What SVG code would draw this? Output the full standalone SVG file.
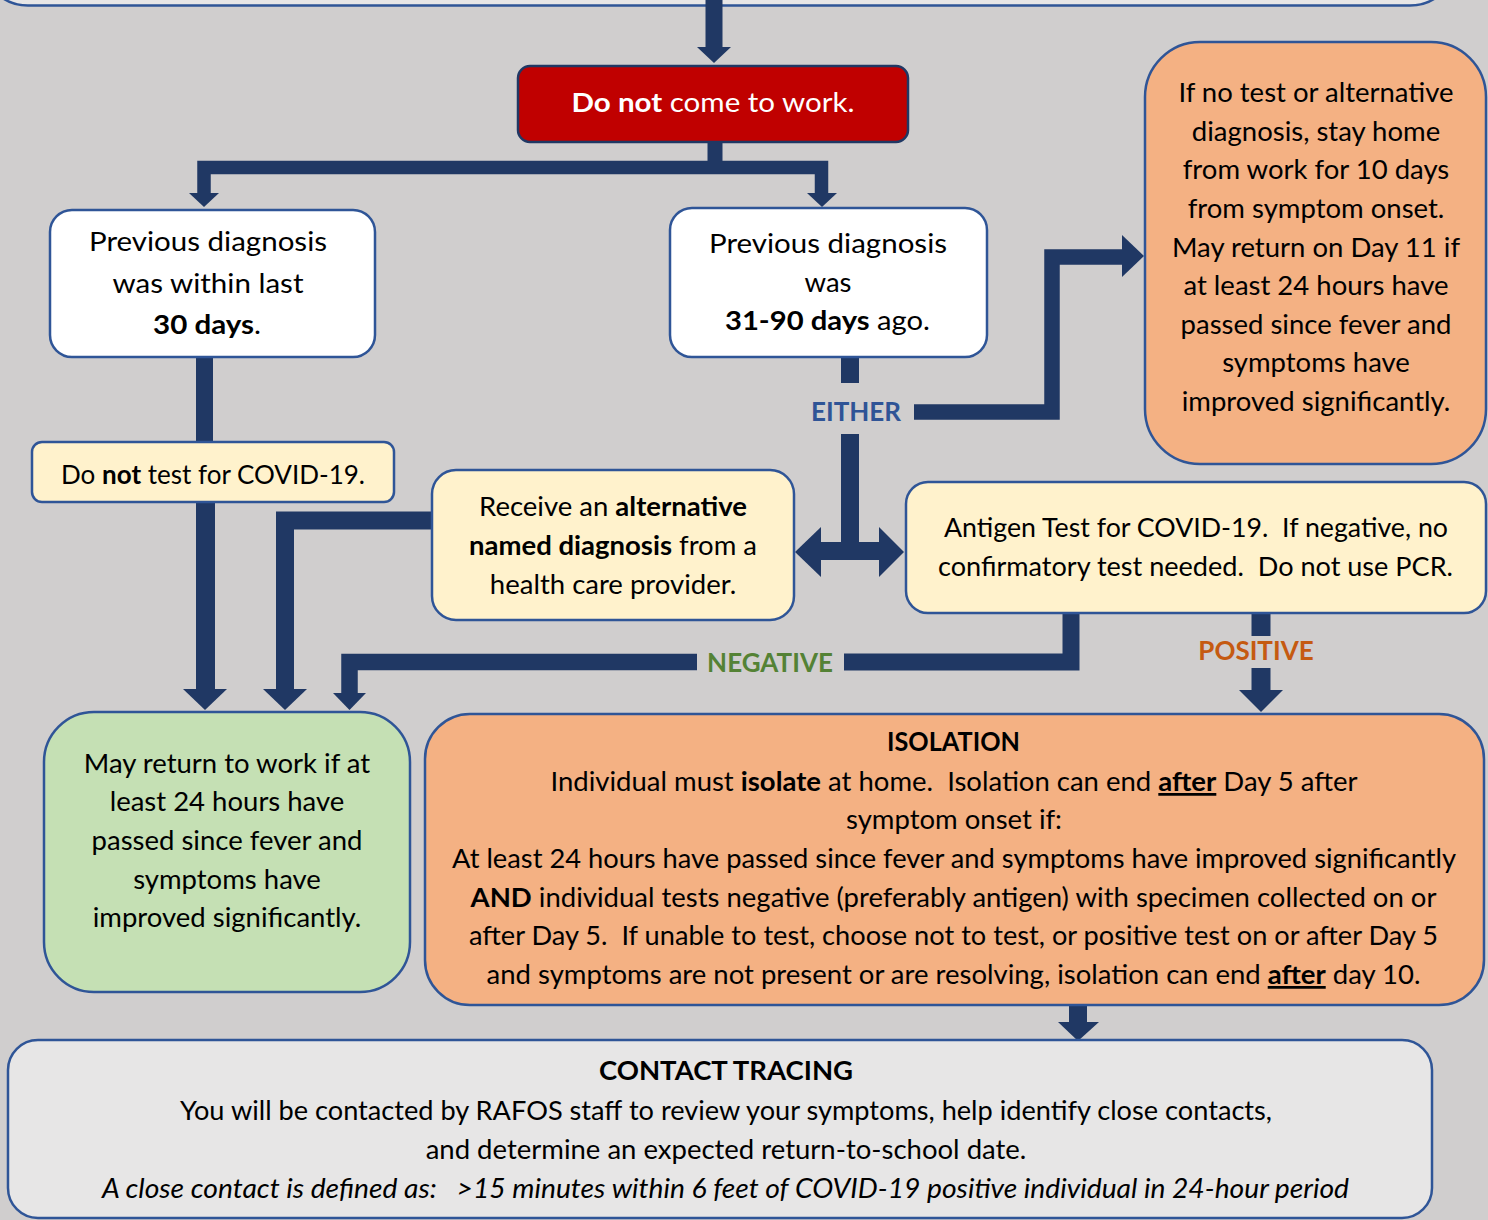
<svg xmlns="http://www.w3.org/2000/svg" width="1488" height="1220" viewBox="0 0 1488 1220">
<style>
  text { font-family: Lato, "Open Sans", "DejaVu Sans", sans-serif; font-size: 27.5px; fill: #000; text-anchor: middle; }
  .b { font-weight: bold; }
  .u { font-weight: bold; text-decoration: underline; }
  .box { stroke: #2F5597; stroke-width: 2.5; }
  .conn { fill: none; stroke: #203864; stroke-linejoin: miter; stroke-linecap: butt; }
  .head { fill: #203864; }
  .lbl { font-weight: bold; font-size: 26px; }
</style>
<rect x="0" y="0" width="1488" height="1220" fill="#D0CECE"/>

<g id="top-box">
  <rect class="box" x="-12" y="-60" width="1462" height="65.5" rx="40" fill="#E7E6E6"/>
</g>

<g id="connectors">
  <line class="conn" x1="714" y1="0" x2="714" y2="48" stroke-width="17"/>
  <polygon class="head" points="697,47 731,47 714,63"/>
  <line class="conn" x1="715" y1="142" x2="715" y2="162" stroke-width="15"/>
  <polyline class="conn" points="204,194 204,167.5 821.5,167.5 821.5,194" stroke-width="13.5"/>
  <polygon class="head" points="189,193 219,193 204,207"/>
  <polygon class="head" points="807,193 837,193 822,207"/>
  <line class="conn" x1="204.5" y1="357" x2="204.5" y2="443" stroke-width="17"/>
  <line class="conn" x1="205.5" y1="502" x2="205.5" y2="690" stroke-width="19"/>
  <polygon class="head" points="183,689 227,689 205,710"/>
  <polyline class="conn" points="433,520.5 285,520.5 285,690" stroke-width="18"/>
  <polygon class="head" points="263,689 307,689 285,710"/>
  <polyline class="conn" points="1071,612 1071,662 844,662" stroke-width="17"/>
  <polyline class="conn" points="697,662 349.5,662 349.5,694" stroke-width="16.5"/>
  <polygon class="head" points="333,693 366,693 349.5,710"/>
  <line class="conn" x1="850" y1="357" x2="850" y2="383" stroke-width="18"/>
  <polyline class="conn" points="914,412 1052,412 1052,257 1123,257" stroke-width="15.5"/>
  <polygon class="head" points="1122,235 1122,277 1144,256"/>
  <line class="conn" x1="850" y1="434" x2="850" y2="552" stroke-width="18"/>
  <line class="conn" x1="820" y1="551" x2="880" y2="551" stroke-width="18"/>
  <polygon class="head" points="821,527 821,577 795,552"/>
  <polygon class="head" points="879,527 879,577 904,552"/>
  <line class="conn" x1="1261" y1="612" x2="1261" y2="636" stroke-width="19"/>
  <line class="conn" x1="1261" y1="668" x2="1261" y2="691" stroke-width="19"/>
  <polygon class="head" points="1239,690 1283,690 1261,712"/>
  <line class="conn" x1="1078" y1="1005" x2="1078" y2="1023" stroke-width="18"/>
  <polygon class="head" points="1058,1022 1099,1022 1078,1041"/>
  <text class="lbl" x="856" y="421" style="fill:#2F5496">EITHER</text>
  <text class="lbl" x="770" y="672" style="fill:#548235">NEGATIVE</text>
  <text class="lbl" x="1256" y="660" style="fill:#C55A11">POSITIVE</text>
</g>

<g id="do-not-work">
  <rect x="518" y="66" width="390" height="76" rx="12" fill="#C00000" stroke="#203864" stroke-width="2.5"/>
  <text x="713" y="112" style="fill:#fff" textLength="283" lengthAdjust="spacingAndGlyphs"><tspan class="b">Do not</tspan> come to work.</text>
</g>

<g id="within-30">
  <rect class="box" x="50" y="210" width="325" height="147" rx="22" fill="#fff"/>
  <text x="208" y="251" textLength="238" lengthAdjust="spacingAndGlyphs">Previous diagnosis</text>
  <text x="208" y="293" textLength="191" lengthAdjust="spacingAndGlyphs">was within last</text>
  <text x="207" y="334" textLength="108" lengthAdjust="spacingAndGlyphs"><tspan class="b">30 days</tspan>.</text>
</g>

<g id="days-31-90">
  <rect class="box" x="670" y="208" width="317" height="149" rx="22" fill="#fff"/>
  <text x="828" y="253" textLength="238" lengthAdjust="spacingAndGlyphs">Previous diagnosis</text>
  <text x="828" y="292">was</text>
  <text x="827.5" y="330" textLength="205" lengthAdjust="spacingAndGlyphs"><tspan class="b">31-90 days</tspan> ago.</text>
</g>

<g id="no-test-stay-home">
  <rect class="box" x="1145" y="42" width="341" height="422" rx="55" fill="#F4B183"/>
  <text x="1316" y="102">If no test or alternative</text>
  <text x="1316" y="141">diagnosis, stay home</text>
  <text x="1316" y="179">from work for 10 days</text>
  <text x="1316" y="218">from symptom onset.</text>
  <text x="1316" y="257">May return on Day 11 if</text>
  <text x="1316" y="295">at least 24 hours have</text>
  <text x="1316" y="334">passed since fever and</text>
  <text x="1316" y="372">symptoms have</text>
  <text x="1316" y="411">improved significantly.</text>
</g>

<g id="do-not-test">
  <rect class="box" x="32" y="442" width="362" height="60" rx="10" fill="#FFF2CC"/>
  <text x="213" y="484" textLength="304" lengthAdjust="spacingAndGlyphs">Do <tspan class="b">not</tspan> test for COVID-19.</text>
</g>

<g id="alt-diagnosis">
  <rect class="box" x="432" y="470" width="362" height="150" rx="24" fill="#FFF2CC"/>
  <text x="613" y="516">Receive an <tspan class="b">alternative</tspan></text>
  <text x="613" y="555"><tspan class="b">named diagnosis</tspan> from a</text>
  <text x="613" y="594">health care provider.</text>
</g>

<g id="antigen-test">
  <rect class="box" x="906" y="482" width="580" height="131" rx="22" fill="#FFF2CC"/>
  <text x="1196" y="537" xml:space="preserve" textLength="504" lengthAdjust="spacingAndGlyphs">Antigen Test for COVID-19.  If negative, no</text>
  <text x="1195.5" y="576" xml:space="preserve" textLength="515" lengthAdjust="spacingAndGlyphs">confirmatory test needed.  Do not use PCR.</text>
</g>

<g id="return-to-work">
  <rect class="box" x="44" y="712" width="366" height="280" rx="50" fill="#C5E0B4"/>
  <text x="227" y="773">May return to work if at</text>
  <text x="227" y="811">least 24 hours have</text>
  <text x="227" y="850">passed since fever and</text>
  <text x="227" y="889">symptoms have</text>
  <text x="227" y="927">improved significantly.</text>
</g>

<g id="isolation">
  <rect class="box" x="425" y="714" width="1059" height="291" rx="45" fill="#F4B183"/>
  <text x="953.5" y="751" class="b" textLength="133" lengthAdjust="spacingAndGlyphs">ISOLATION</text>
  <text x="954" y="791" xml:space="preserve">Individual must <tspan class="b">isolate</tspan> at home.  Isolation can end <tspan class="u">after</tspan> Day 5 after</text>
  <text x="954" y="829">symptom onset if:</text>
  <text x="954" y="868" textLength="1004" lengthAdjust="spacingAndGlyphs">At least 24 hours have passed since fever and symptoms have improved significantly</text>
  <text x="953.5" y="907"><tspan class="b">AND</tspan> individual tests negative (preferably antigen) with specimen collected on or</text>
  <text x="953.5" y="945" xml:space="preserve" textLength="969" lengthAdjust="spacingAndGlyphs">after Day 5.  If unable to test, choose not to test, or positive test on or after Day 5</text>
  <text x="953.5" y="984">and symptoms are not present or are resolving, isolation can end <tspan class="u">after</tspan> day 10.</text>
</g>

<g id="contact-tracing">
  <rect class="box" x="8" y="1040" width="1424" height="178" rx="30" fill="#E7E6E6"/>
  <text x="726" y="1080" class="b">CONTACT TRACING</text>
  <text x="726" y="1120" textLength="1092" lengthAdjust="spacingAndGlyphs">You will be contacted by RAFOS staff to review your symptoms, help identify close contacts,</text>
  <text x="726" y="1159">and determine an expected return-to-school date.</text>
  <text x="725.5" y="1198" font-style="italic" xml:space="preserve" textLength="1247" lengthAdjust="spacingAndGlyphs">A close contact is defined as:   &gt;15 minutes within 6 feet of COVID-19 positive individual in 24-hour period</text>
</g>
</svg>
